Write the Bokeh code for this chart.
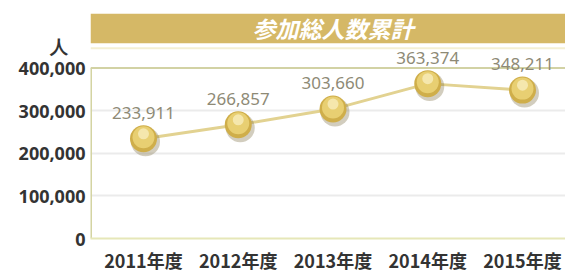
from bokeh.plotting import figure
from bokeh.models import (ColumnDataSource, LabelSet, Label, BoxAnnotation, Span,
                          FixedTicker, Range1d, NumeralTickFormatter)
from bokeh.core.properties import value
from bokeh.embed import file_html
from bokeh.resources import INLINE

# ---- data ----
years = ["2011年度", "2012年度", "2013年度", "2014年度", "2015年度"]
participants = [233911, 266857, 303660, 363374, 348211]
y_ticks = [0, 100000, 200000, 300000, 400000]
title_text = "参加総人数累計"
unit_text = "人"

# ---- geometry ----
W, H = 565, 275
LEFT, TOP, BOTTOM = 90, 13, 35
frame_w = W - LEFT
frame_h = H - TOP - BOTTOM
y_top_tick = y_ticks[-1]
px_top_gap = 55                       # px between frame top and top tick
py = (frame_h - px_top_gap) / y_top_tick   # px per unit (y)
y_end = frame_h / py
px_first = 53                         # px from frame left to first point
px_step = 94.75
x_start = -px_first / px_step
x_end = x_start + frame_w / px_step

xs = list(range(len(years)))
src = ColumnDataSource(dict(x=xs, y=participants,
                            label=[f"{v:,}" for v in participants]))

p = figure(width=W, height=H, output_backend="svg", toolbar_location=None,
           x_range=Range1d(x_start, x_end), y_range=Range1d(0, y_end),
           min_border_left=LEFT, min_border_top=TOP, min_border_bottom=BOTTOM,
           min_border_right=0)
p.background_fill_color = "white"
p.border_fill_color = "white"
p.outline_line_color = None

# title bar
bar_px = 30
p.add_layout(BoxAnnotation(bottom=y_end - bar_px / py, fill_color="#d5b866",
                           fill_alpha=1.0, line_color=None, level="underlay"))
p.add_layout(Span(location=y_end - (bar_px + 5) / py, dimension="width",
                  line_color="#f4efd2", line_width=2))
p.add_layout(Label(x=(xs[0] + xs[-1]) / 2, y=y_end - bar_px / 2 / py, text=title_text,
                   text_align="center", text_baseline="middle", text_color="white",
                   text_font="Noto Sans CJK JP", text_font_size="23px",
                   text_font_style="bold italic"))

# axes
p.xaxis.ticker = FixedTicker(ticks=xs)
p.xaxis.major_label_overrides = {x: lab for x, lab in zip(xs, years)}
p.xaxis.major_tick_line_color = None
p.xaxis.major_tick_out = 0
p.xaxis.major_tick_in = 0
p.xaxis.minor_tick_line_color = None
p.xaxis.axis_line_color = "#e6e7b8"
p.xaxis.axis_line_width = 2
p.xaxis.major_label_text_font = "Noto Sans CJK JP"
p.xaxis.major_label_text_font_size = "18px"
p.xaxis.major_label_text_font_style = "bold"
p.xaxis.major_label_text_color = "#333333"
p.xaxis.major_label_standoff = 8

# unit "人" shown as an extra label on the y axis, above the top tick
unit_pos = y_top_tick + 22 / py
p.yaxis.ticker = FixedTicker(ticks=y_ticks + [unit_pos])
p.yaxis.formatter = NumeralTickFormatter(format="0,0")
p.yaxis.major_label_overrides = {unit_pos: unit_text + "\u3000"}
p.yaxis.major_tick_line_color = None
p.yaxis.major_tick_out = 0
p.yaxis.major_tick_in = 0
p.yaxis.minor_tick_line_color = None
p.yaxis.axis_line_color = None
p.yaxis.major_label_text_font = "Noto Sans"
p.yaxis.major_label_text_font_size = "18px"
p.yaxis.major_label_text_font_style = "bold"
p.yaxis.major_label_text_color = "#333333"
p.yaxis.major_label_standoff = 5

p.xgrid.grid_line_color = None
p.ygrid.ticker = FixedTicker(ticks=y_ticks[1:-1])
p.ygrid.grid_line_color = "#ebebeb"
p.ygrid.grid_line_width = 2

# top line and left axis line
p.add_layout(Span(location=y_top_tick, dimension="width",
                  line_color="#d2d2a4", line_width=2))
p.segment(x0=[x_start], y0=[0], x1=[x_start], y1=[y_top_tick],
          line_color="#d4d4a2", line_width=3)

# line + markers (layered circles imitate the shaded balls)
p.line("x", "y", source=src, line_color="#e2d291", line_width=3)
shadow_x = [x + 2 / px_step for x in xs]
shadow_y = [v - 3 / py for v in participants]
p.scatter(shadow_x, shadow_y, size=29, fill_color="#7d6f45", fill_alpha=0.35, line_color=None)
p.scatter("x", "y", source=src, size=27, fill_color="#cfae4a", line_color=None)
inner_y = [v + 1.5 / py for v in participants]
p.scatter(xs, inner_y, size=22, fill_color="#e8cf72", line_color=None)
hi_y = [v + 5 / py for v in participants]
p.scatter(xs, hi_y, size=11, fill_color="#f6e9b4", fill_alpha=0.9, line_color=None)

p.add_layout(LabelSet(x="x", y="y", text="label", source=src, y_offset=20,
                      text_align="center", text_baseline="bottom",
                      text_font=value("Noto Sans"), text_font_size="17px",
                      text_color="#8e8a76"))

open("out.html", "w").write(file_html(p, INLINE))
